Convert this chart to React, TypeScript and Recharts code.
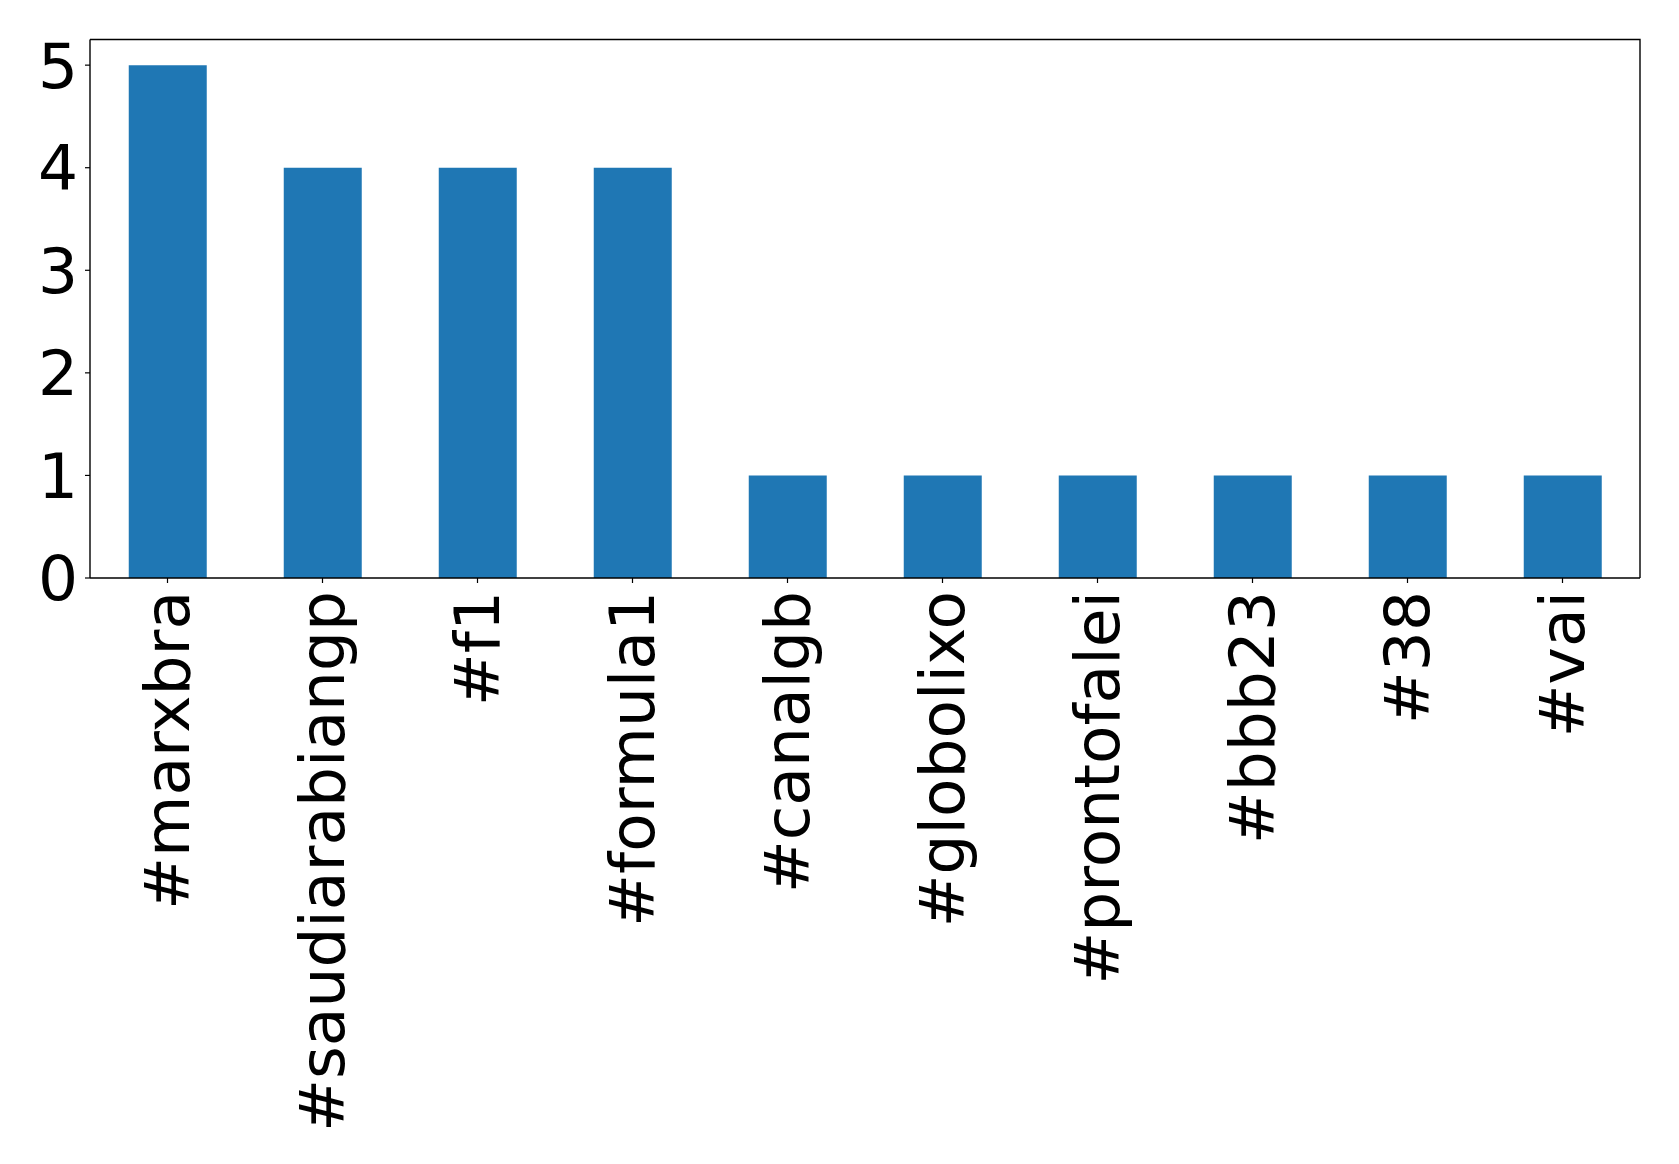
import { Bar, BarChart, XAxis, YAxis, usePlotArea } from "recharts";

const hashtags = ["#marxbra", "#saudiarabiangp", "#f1", "#formula1", "#canalgb", "#globolixo", "#prontofalei", "#bbb23", "#38", "#vai"];
const counts = [5, 4, 4, 4, 1, 1, 1, 1, 1, 1];
const yTicks = [0, 1, 2, 3, 4, 5];

const data = hashtags.map((tag, i) => ({ tag, count: counts[i] }));

const FONT = "'DejaVu Sans', sans-serif";
const FONT_SIZE = 63;

function RotatedTick(props: any) {
  const { x, y, payload } = props;
  return (
    <text
      x={x}
      y={y}
      transform={`rotate(-90, ${x}, ${y})`}
      textAnchor="end"
      dominantBaseline="central"
      fontFamily={FONT}
      fontSize={FONT_SIZE}
      fill="#000"
    >
      {payload.value}
    </text>
  );
}

// top and right spines of the axes box
function Frame() {
  const area = usePlotArea();
  if (!area) return null;
  const { x, y, width, height } = area;
  return (
    <path
      d={`M${x},${y} L${x + width},${y} L${x + width},${y + height}`}
      fill="none"
      stroke="#000"
      strokeWidth={1.4}
    />
  );
}

export default function App() {
  return (
    <div style={{ position: "absolute", left: 0, top: 0, background: "#fff" }}>
      <BarChart width={1679} height={1164} data={data} barCategoryGap="25%" margin={{ top: 39.5, right: 39, left: 0, bottom: 0 }}>
        <XAxis
          dataKey="tag"
          height={586}
          interval={0}
          tickSize={5}
          tickMargin={8}
          tick={<RotatedTick />}
          axisLine={{ stroke: "#000", strokeWidth: 1.4 }}
          tickLine={{ stroke: "#000", strokeWidth: 1.2 }}
        />
        <YAxis
          width={90}
          domain={[0, 5.25]}
          ticks={yTicks}
          tickSize={5}
          tickMargin={7}
          tick={{ fontFamily: FONT, fontSize: FONT_SIZE, fill: "#000" }}
          axisLine={{ stroke: "#000", strokeWidth: 1.4 }}
          tickLine={{ stroke: "#000", strokeWidth: 1.2 }}
        />
        <Bar dataKey="count" fill="#1f77b4" isAnimationActive={false} />
        <Frame />
      </BarChart>
    </div>
  );
}
